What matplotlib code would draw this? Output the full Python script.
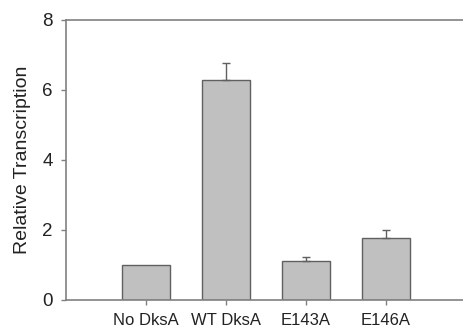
"""Relative transcription bar chart."""
import matplotlib
matplotlib.use("Agg")
import matplotlib.pyplot as plt
import numpy as np

CATEGORIES = ["No DksA", "WT DksA", "E143A", "E146A"]
MEANS = [1.0, 6.29, 1.11, 1.76]
ERR_UP = [0.0, 0.47, 0.13, 0.23]

plt.rcParams["font.family"] = ["Liberation Sans", "DejaVu Sans"]
EDGE = "#606060"
SPINE = "#808080"

fig = plt.figure(figsize=(4.63, 3.34), dpi=100)
ax = fig.add_axes([66 / 463, 34 / 334, 400 / 463, 280 / 334])

x = np.arange(1, len(CATEGORIES) + 1)
ax.bar(x, MEANS, width=0.6, color="#c0c0c0", edgecolor=EDGE, linewidth=1.0, zorder=2)
mask = np.array(ERR_UP) > 0
ax.errorbar(x[mask], np.array(MEANS)[mask], yerr=[np.zeros(mask.sum()), np.array(ERR_UP)[mask]],
            fmt="none", ecolor=EDGE, elinewidth=1.0, capsize=3, capthick=1.0, zorder=3)

ax.set_xlim(0, 5)
ax.set_ylim(0, 8)
ax.set_yticks([0, 2, 4, 6, 8])
ax.set_xticks(x)
ax.set_xticklabels(CATEGORIES, fontsize=12)
ax.set_ylabel("Relative Transcription", fontsize=14, color="#222222", labelpad=8)
ax.tick_params(axis="both", colors=SPINE, labelcolor="#222222", length=3.5, width=1.0, direction="out")
ax.tick_params(axis="y", labelsize=13.5, pad=6)
ax.tick_params(axis="x", pad=6)
for side in ["left", "top", "bottom", "right"]:
    ax.spines[side].set_color(SPINE)
    ax.spines[side].set_linewidth(1.2)

fig.savefig("out.png", dpi=100)
plt.close(fig)
